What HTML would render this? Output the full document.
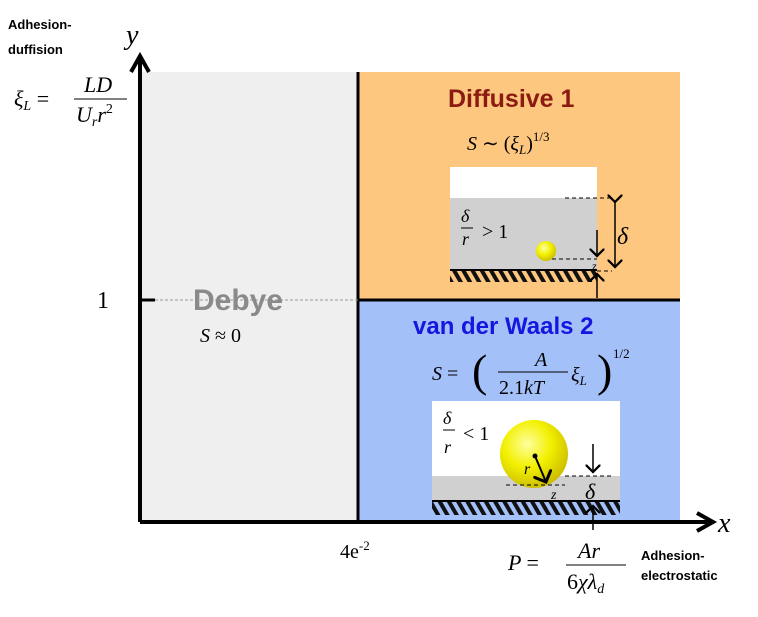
<!DOCTYPE html>
<html><head><style>
body{margin:0;background:#fff;width:758px;height:612px;overflow:hidden;font-family:"Liberation Sans",sans-serif}
</style></head><body>
<svg width="758" height="612" viewBox="0 0 758 612" xmlns="http://www.w3.org/2000/svg">
<defs>
<pattern id="h" width="8" height="8" patternUnits="userSpaceOnUse" patternTransform="rotate(-30)"><rect width="4" height="8" fill="#111"/></pattern>
<radialGradient id="ball" cx="0.4" cy="0.35" r="0.7"><stop offset="0" stop-color="#ffffa0"/><stop offset="0.5" stop-color="#f2f000"/><stop offset="1" stop-color="#c8b800"/></radialGradient>
<marker id="a" markerWidth="10" markerHeight="10" refX="5" refY="5" orient="auto"><path d="M0,0 L5,5 L0,10" fill="none" stroke="#000" stroke-width="1.5"/></marker>
</defs>
<rect x="140" y="72" width="218" height="450" fill="#efefef"/>
<rect x="358" y="72" width="322" height="228" fill="#fdc77f"/>
<rect x="358" y="300" width="322" height="222" fill="#a3c0f9"/>
<line x1="358" y1="72" x2="358" y2="522" stroke="#000" stroke-width="3"/>
<line x1="358" y1="300" x2="680" y2="300" stroke="#000" stroke-width="3"/>
<line x1="150" y1="300" x2="358" y2="300" stroke="#999" stroke-width="1" stroke-dasharray="3,2"/>
<line x1="140" y1="300" x2="155" y2="300" stroke="#000" stroke-width="3"/>
<line x1="140" y1="522" x2="140" y2="60" stroke="#000" stroke-width="4"/>
<path d="M131,72 L140,56 L149,72" fill="none" stroke="#000" stroke-width="4"/>
<line x1="140" y1="522" x2="712" y2="522" stroke="#000" stroke-width="4"/>
<path d="M697,513 L713,522 L697,531" fill="none" stroke="#000" stroke-width="4"/>
<text x="126" y="44" font-family="Liberation Serif" font-style="italic" font-size="28">y</text>
<text x="718" y="532" font-family="Liberation Serif" font-style="italic" font-size="28">x</text>
<text x="97" y="308" font-family="Liberation Serif" font-size="24">1</text>
<text x="340" y="558" font-family="Liberation Serif" font-size="20">4e<tspan font-size="13" dy="-8">-2</tspan></text>
<text x="8" y="29" font-size="13" font-weight="bold">Adhesion-</text>
<text x="8" y="54" font-size="13" font-weight="bold">duffision</text>
<text x="14" y="106" font-family="Liberation Serif" font-style="italic" font-size="22">ξ<tspan font-size="14" dy="4">L</tspan><tspan dy="-4" font-style="normal"> =</tspan></text>
<text x="84" y="92" font-family="Liberation Serif" font-style="italic" font-size="22">LD</text>
<line x1="74" y1="99" x2="127" y2="99" stroke="#000"/>
<text x="76" y="122" font-family="Liberation Serif" font-style="italic" font-size="22">U<tspan font-size="14" dy="4">r</tspan><tspan dy="-4">r</tspan><tspan font-size="14" dy="-9" font-style="normal">2</tspan></text>
<text x="193" y="310" font-size="30" font-weight="bold" fill="#8a8a8a">Debye</text>
<text x="200" y="342" font-family="Liberation Serif" font-style="italic" font-size="20">S <tspan font-style="normal">≈ 0</tspan></text>
<text x="448" y="107" font-size="25" font-weight="bold" fill="#8b1a10">Diffusive 1</text>
<text x="467" y="150" font-family="Liberation Serif" font-style="italic" font-size="20">S <tspan font-style="normal">∼ (</tspan>ξ<tspan font-size="13" dy="4">L</tspan><tspan dy="-4" font-style="normal">)</tspan><tspan font-size="13" dy="-9" font-style="normal">1/3</tspan></text>
<rect x="450" y="167" width="147" height="31" fill="#fff"/>
<rect x="450" y="198" width="147" height="72" fill="#d0d0d0"/>
<rect x="450" y="270" width="147" height="12" fill="url(#h)"/>
<line x1="450" y1="270" x2="597" y2="270" stroke="#000" stroke-width="2"/>
<text x="461" y="222" font-family="Liberation Serif" font-style="italic" font-size="18">δ</text>
<line x1="461" y1="228" x2="473" y2="228" stroke="#000"/>
<text x="462" y="245" font-family="Liberation Serif" font-style="italic" font-size="18">r</text>
<text x="482" y="238" font-family="Liberation Serif" font-size="20">&gt; 1</text>
<circle cx="546" cy="251" r="10" fill="url(#ball)"/>
<line x1="565" y1="198" x2="612" y2="198" stroke="#000" stroke-dasharray="4,3"/>
<line x1="552" y1="259" x2="597" y2="259" stroke="#000" stroke-dasharray="4,3"/>
<line x1="597" y1="271" x2="612" y2="271" stroke="#000" stroke-dasharray="4,3"/>
<line x1="615" y1="202" x2="615" y2="267" stroke="#000" stroke-width="1.5" marker-start="url(#a)" marker-end="url(#a)"/>
<text x="617" y="244" font-family="Liberation Serif" font-style="italic" font-size="24">δ</text>
<line x1="597" y1="230" x2="597" y2="256" stroke="#000" stroke-width="1.5" marker-end="url(#a)"/>
<line x1="597" y1="298" x2="597" y2="274" stroke="#000" stroke-width="1.5" marker-end="url(#a)"/>
<text x="592" y="270" font-family="Liberation Serif" font-style="italic" font-size="12">z</text>
<text x="413" y="334" font-size="24" font-weight="bold" fill="#1616e0">van der Waals 2</text>
<text x="432" y="380" font-family="Liberation Serif" font-style="italic" font-size="20">S <tspan font-style="normal">=</tspan></text>
<text x="472" y="386" font-family="Liberation Serif" font-size="46">(</text>
<text x="535" y="366" font-family="Liberation Serif" font-style="italic" font-size="20">A</text>
<line x1="498" y1="372" x2="568" y2="372" stroke="#000"/>
<text x="499" y="394" font-family="Liberation Serif" font-size="20">2.1<tspan font-style="italic">kT</tspan></text>
<text x="571" y="381" font-family="Liberation Serif" font-style="italic" font-size="20">ξ<tspan font-size="13" dy="4">L</tspan></text>
<text x="597" y="386" font-family="Liberation Serif" font-size="46">)</text>
<text x="613" y="358" font-family="Liberation Serif" font-size="13">1/2</text>
<rect x="432" y="401" width="188" height="75" fill="#fff"/>
<rect x="432" y="476" width="188" height="24" fill="#d0d0d0"/>
<rect x="432" y="502" width="188" height="13" fill="url(#h)"/>
<line x1="432" y1="501" x2="620" y2="501" stroke="#000" stroke-width="2"/>
<text x="443" y="424" font-family="Liberation Serif" font-style="italic" font-size="18">δ</text>
<line x1="443" y1="430" x2="455" y2="430" stroke="#000"/>
<text x="444" y="453" font-family="Liberation Serif" font-style="italic" font-size="18">r</text>
<text x="463" y="440" font-family="Liberation Serif" font-size="20">&lt; 1</text>
<circle cx="534" cy="454" r="34" fill="url(#ball)"/>
<line x1="535" y1="456" x2="546" y2="482" stroke="#000" stroke-width="2" marker-end="url(#a)"/>
<circle cx="535" cy="456" r="2.5"/>
<text x="524" y="474" font-family="Liberation Serif" font-style="italic" font-size="16">r</text>
<line x1="506" y1="485" x2="565" y2="485" stroke="#000" stroke-dasharray="4,3"/>
<line x1="565" y1="476" x2="614" y2="476" stroke="#000" stroke-dasharray="4,3"/>
<text x="551" y="499" font-family="Liberation Serif" font-style="italic" font-size="14">z</text>
<line x1="593" y1="444" x2="593" y2="472" stroke="#000" stroke-width="1.5" marker-end="url(#a)"/>
<text x="585" y="499" font-family="Liberation Serif" font-style="italic" font-size="22">δ</text>
<line x1="593" y1="530" x2="593" y2="506" stroke="#000" stroke-width="1.5" marker-end="url(#a)"/>
<text x="508" y="570" font-family="Liberation Serif" font-style="italic" font-size="22">P <tspan font-style="normal">=</tspan></text>
<text x="578" y="558" font-family="Liberation Serif" font-style="italic" font-size="22">Ar</text>
<line x1="566" y1="565" x2="626" y2="565" stroke="#000"/>
<text x="567" y="589" font-family="Liberation Serif" font-size="22">6<tspan font-style="italic">χλ</tspan><tspan font-size="14" font-style="italic" dy="4">d</tspan></text>
<text x="641" y="560" font-size="13" font-weight="bold">Adhesion-</text>
<text x="641" y="580" font-size="13" font-weight="bold">electrostatic</text>
</svg>
</body></html>
